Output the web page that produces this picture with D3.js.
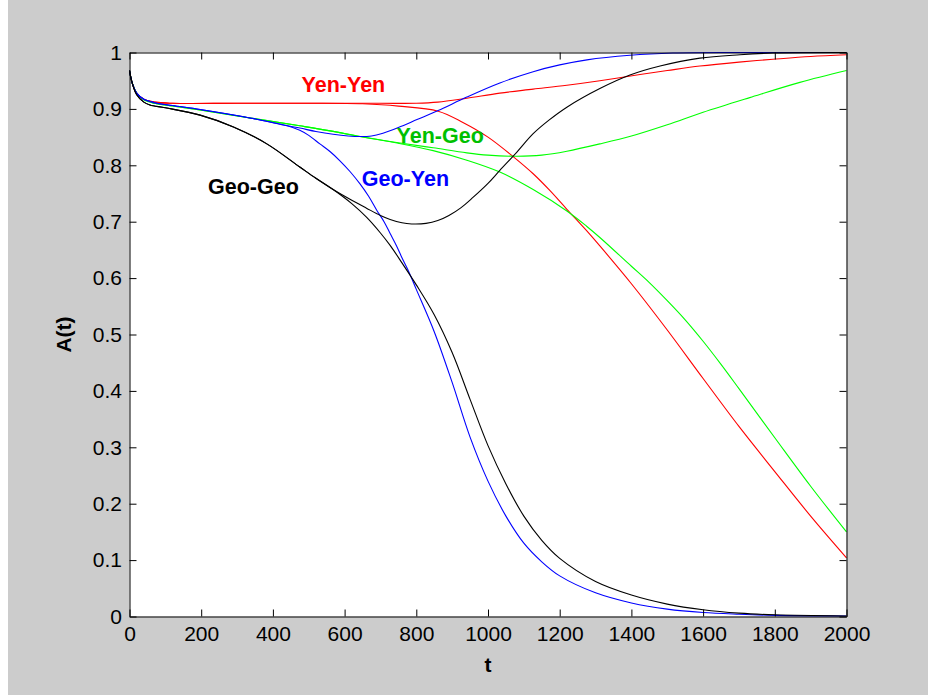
<!DOCTYPE html>
<html>
<head>
<meta charset="utf-8">
<script src="https://cdn.jsdelivr.net/npm/d3@7"></script>
<style>
  body { margin: 0; background: #cccccc; }
  svg { display: block; }
</style>
</head>
<body>
<svg id="chart" width="928" height="695"></svg>
<script>
// Axis ticks
const xTicks = [0, 200, 400, 600, 800, 1000, 1200, 1400, 1600, 1800, 2000];
const yTicks = [0, 0.1, 0.2, 0.3, 0.4, 0.5, 0.6, 0.7, 0.8, 0.9, 1];

// A(t) curves, [t, A] pairs
const yenYenUp = [[0,0.968],[8,0.945],[20,0.928],[40,0.917],[70,0.912],[120,0.910],[300,0.910],[500,0.910],[700,0.910],[800,0.910],[860,0.912],[941,0.919],[1033,0.928],[1126,0.935],[1220,0.942],[1312,0.950],[1424,0.961],[1500,0.968],[1591,0.976],[1700,0.983],[1795,0.988],[1900,0.993],[2000,0.996]];
const yenYenDown = [[0,0.968],[8,0.945],[20,0.928],[40,0.917],[70,0.912],[120,0.910],[300,0.910],[500,0.910],[650,0.909],[750,0.905],[861,0.896],[930,0.876],[1000,0.850],[1071,0.815],[1126,0.785],[1173,0.755],[1220,0.722],[1275,0.684],[1312,0.657],[1400,0.590],[1500,0.508],[1600,0.422],[1700,0.337],[1800,0.257],[1900,0.178],[2000,0.104]];
const yenGeoUp = [[0,0.968],[8,0.945],[20,0.928],[40,0.916],[70,0.910],[120,0.905],[197,0.898],[336,0.884],[475,0.870],[560,0.861],[643,0.851],[750,0.840],[847,0.831],[941,0.822],[1000,0.818],[1081,0.816],[1150,0.818],[1220,0.825],[1312,0.838],[1400,0.852],[1500,0.872],[1600,0.894],[1730,0.920],[1870,0.947],[2000,0.968]];
const yenGeoDown = [[0,0.968],[8,0.945],[20,0.928],[40,0.916],[70,0.910],[120,0.905],[197,0.898],[336,0.884],[475,0.870],[560,0.861],[643,0.851],[750,0.839],[847,0.826],[941,0.809],[1033,0.788],[1126,0.757],[1220,0.719],[1275,0.692],[1312,0.672],[1400,0.621],[1450,0.592],[1500,0.560],[1550,0.526],[1600,0.488],[1650,0.447],[1700,0.404],[1800,0.317],[1900,0.231],[2000,0.150]];
const geoYenUp = [[0,0.968],[8,0.945],[20,0.928],[40,0.917],[70,0.911],[120,0.906],[197,0.899],[336,0.884],[440,0.870],[475,0.866],[520,0.860],[568,0.855],[610,0.852],[643,0.851],[675,0.852],[707,0.857],[750,0.867],[802,0.881],[861,0.897],[941,0.921],[1033,0.946],[1126,0.966],[1200,0.978],[1276,0.987],[1396,0.995],[1516,0.999],[1700,1.0],[2000,1.0]];
const geoYenDown = [[0,0.968],[8,0.945],[20,0.928],[40,0.917],[70,0.911],[120,0.906],[197,0.899],[336,0.884],[440,0.870],[475,0.862],[500,0.853],[531,0.838],[560,0.824],[587,0.808],[615,0.789],[643,0.767],[667,0.745],[690,0.720],[710,0.700],[727,0.679],[745,0.657],[760,0.636],[780,0.610],[800,0.580],[850,0.505],[900,0.415],[950,0.318],[1000,0.240],[1050,0.178],[1100,0.130],[1150,0.097],[1200,0.072],[1300,0.042],[1400,0.024],[1500,0.013],[1600,0.007],[1700,0.004],[1800,0.002],[2000,0.001]];
const geoGeoUp = [[0,0.968],[8,0.945],[20,0.925],[40,0.912],[57,0.907],[100,0.902],[197,0.889],[290,0.868],[383,0.838],[475,0.797],[520,0.777],[568,0.757],[620,0.738],[661,0.724],[700,0.711],[727,0.704],[760,0.698],[787,0.696],[827,0.697],[860,0.702],[891,0.711],[925,0.725],[958,0.743],[1000,0.768],[1033,0.791],[1080,0.823],[1126,0.856],[1170,0.880],[1220,0.903],[1312,0.936],[1396,0.960],[1480,0.976],[1591,0.990],[1703,0.996],[1795,0.999],[2000,1.0]];
const geoGeoDown = [[0,0.968],[8,0.945],[20,0.925],[40,0.912],[57,0.907],[100,0.902],[197,0.889],[290,0.868],[383,0.838],[475,0.797],[520,0.777],[568,0.757],[620,0.732],[661,0.708],[700,0.680],[727,0.658],[760,0.627],[800,0.588],[850,0.535],[900,0.468],[950,0.385],[1000,0.303],[1050,0.235],[1100,0.178],[1150,0.135],[1200,0.103],[1300,0.062],[1400,0.038],[1500,0.022],[1600,0.012],[1700,0.006],[1800,0.003],[2000,0.001]];

const seriesList = [
  { data: yenYenUp,   color: "#ff0000" },
  { data: yenYenDown, color: "#ff0000" },
  { data: yenGeoUp,   color: "#00ff00" },
  { data: yenGeoDown, color: "#00ff00" },
  { data: geoYenUp,   color: "#0000ff" },
  { data: geoYenDown, color: "#0000ff" },
  { data: geoGeoUp,   color: "#000000" },
  { data: geoGeoDown, color: "#000000" }
];

// curve names, anchored at their left baseline in data units
const curveLabels = [
  { text: "Yen-Yen", t: 480,  a: 0.930, color: "#ff0000" },
  { text: "Yen-Geo", t: 745,  a: 0.839, color: "#00c000" },
  { text: "Geo-Yen", t: 648,  a: 0.763, color: "#0000ff" },
  { text: "Geo-Geo", t: 219,  a: 0.749, color: "#000000" }
];

const FONT = "'Liberation Sans', Arial, Helvetica, sans-serif";

const svg = d3.select("#chart");
const x = d3.scaleLinear().domain([0, 2000]).range([129.5, 846.5]);
const y = d3.scaleLinear().domain([0, 1]).range([616.5, 52.5]);

// window background, with a light strip on the left edge
svg.append("rect").attr("width", 928).attr("height", 695).attr("fill", "#cccccc");
svg.append("rect").attr("width", 8).attr("height", 695).attr("fill", "#ffffff");

// plot area
svg.append("rect")
  .attr("x", x(0)).attr("y", y(1))
  .attr("width", x(2000) - x(0)).attr("height", y(0) - y(1))
  .attr("fill", "#ffffff");

// curves
const line = d3.line()
  .x(d => x(d[0]))
  .y(d => y(d[1]))
  .curve(d3.curveCatmullRom.alpha(0.5));

svg.append("g").selectAll("path")
  .data(seriesList)
  .join("path")
  .attr("d", s => line(s.data))
  .attr("fill", "none")
  .attr("stroke", s => s.color)
  .attr("stroke-width", 1.1);

// axes: ticks point inward on all four sides
function styleAxis(g) {
  g.selectAll(".domain").attr("stroke", "#000").attr("stroke-width", 1);
  g.selectAll(".tick line").attr("stroke", "#000").attr("stroke-width", 1);
  g.selectAll(".tick text")
    .attr("font-family", FONT).attr("font-size", 21).attr("fill", "#000");
}

svg.append("g")
  .attr("transform", `translate(0,${y(0)})`)
  .call(d3.axisBottom(x).tickValues(xTicks).tickFormat(d3.format("d"))
    .tickSizeInner(-7).tickSizeOuter(0).tickPadding(10))
  .call(styleAxis);

svg.append("g")
  .attr("transform", `translate(${x(0)},0)`)
  .call(d3.axisLeft(y).tickValues(yTicks).tickFormat(d => d === 0 || d === 1 ? String(d) : d3.format(".1f")(d))
    .tickSizeInner(-7).tickSizeOuter(0).tickPadding(7.5))
  .call(styleAxis);

svg.append("g")
  .attr("transform", `translate(0,${y(1)})`)
  .call(d3.axisTop(x).tickValues(xTicks).tickFormat("")
    .tickSizeInner(-7).tickSizeOuter(0))
  .call(styleAxis);

svg.append("g")
  .attr("transform", `translate(${x(2000)},0)`)
  .call(d3.axisRight(y).tickValues(yTicks).tickFormat("")
    .tickSizeInner(-7).tickSizeOuter(0))
  .call(styleAxis);

// axis titles
svg.append("text")
  .attr("x", (x(0) + x(2000)) / 2).attr("y", 672)
  .attr("text-anchor", "middle")
  .attr("font-family", FONT).attr("font-size", 21).attr("font-weight", "bold")
  .text("t");

svg.append("text")
  .attr("transform", `translate(71,${(y(0) + y(1)) / 2}) rotate(-90)`)
  .attr("text-anchor", "middle")
  .attr("font-family", FONT).attr("font-size", 21).attr("font-weight", "bold")
  .text("A(t)");

// curve names
svg.append("g").selectAll("text")
  .data(curveLabels)
  .join("text")
  .attr("x", d => x(d.t)).attr("y", d => y(d.a))
  .attr("font-family", FONT).attr("font-size", 21.5).attr("font-weight", "bold")
  .attr("fill", d => d.color)
  .text(d => d.text);
</script>
</body>
</html>
